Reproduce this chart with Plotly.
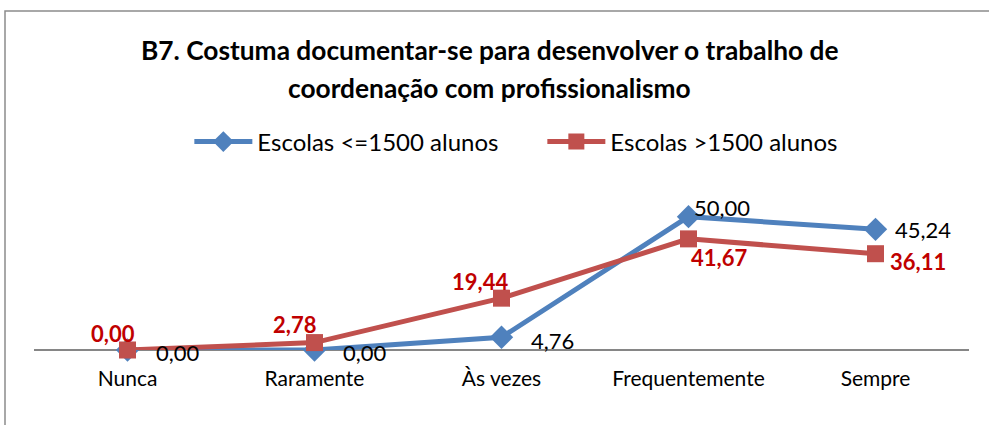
import plotly.graph_objects as go

categories = ["Nunca", "Raramente", "Às vezes", "Frequentemente", "Sempre"]
small_schools = [0.00, 0.00, 4.76, 50.00, 45.24]
large_schools = [0.00, 2.78, 19.44, 41.67, 36.11]
series_names = ["Escolas <=1500 alunos", "Escolas >1500 alunos"]
title_lines = ["B7. Costuma documentar-se para desenvolver o trabalho de",
               "coordenação com profissionalismo"]

BLUE = "#4F81BD"
RED = "#C0504D"
LABEL_RED = "#C00000"
FONT = "Lato, 'Open Sans', sans-serif"

def fmt(v):
    return f"{v:.2f}".replace(".", ",")

fig = go.Figure()
fig.add_trace(go.Scatter(
    x=categories, y=small_schools, name=series_names[0], mode="lines+markers",
    line=dict(color=BLUE, width=5),
    marker=dict(symbol="diamond", size=18, color=BLUE),
    cliponaxis=False,
))
fig.add_trace(go.Scatter(
    x=categories, y=large_schools, name=series_names[1], mode="lines+markers",
    line=dict(color=RED, width=5),
    marker=dict(symbol="square", size=17, color=RED),
    cliponaxis=False,
))

# label offsets (pixels) for each point
blue_off = [(26, -2, "left"), (26, -2, "left"), (27, -3, "left"), (3, 9, "left"), (17, 0, "left")]
red_off = [(-15, 17, "center"), (-20, 18, "center"), (-22, 17, "center"), (30, -19, "center"), (42, -8, "center")]

annotations = []
for c, v, (dx, dy, anc) in zip(categories, small_schools, blue_off):
    annotations.append(dict(x=c, y=v, text=fmt(v), showarrow=False, xanchor=anc,
                            yanchor="middle", xshift=dx, yshift=dy,
                            font=dict(family=FONT, size=22, color="#000000")))
for c, v, (dx, dy, anc) in zip(categories, large_schools, red_off):
    annotations.append(dict(x=c, y=v, text="<b>" + fmt(v) + "</b>", showarrow=False,
                            xanchor=anc, yanchor="middle", xshift=dx, yshift=dy,
                            font=dict(family=FONT, size=22, color=LABEL_RED)))
# title lines
annotations.append(dict(xref="paper", yref="paper", x=0.487, y=(350 - 50) / 160, yanchor="middle",
                        text="<b>" + title_lines[0] + "</b>", showarrow=False,
                        font=dict(family=FONT, size=26.3, color="#000000")))
annotations.append(dict(xref="paper", yref="paper", x=0.487, y=(350 - 88) / 160, yanchor="middle",
                        text="<b>" + title_lines[1] + "</b>", showarrow=False,
                        font=dict(family=FONT, size=26.3, color="#000000")))

fig.update_layout(
    width=989, height=425,
    margin=dict(l=34, r=20, t=190, b=75),
    paper_bgcolor="white", plot_bgcolor="white",
    font=dict(family=FONT, size=21, color="#000000"),
    showlegend=True,
    legend=dict(orientation="h", x=0.487 + 53 / 935, xanchor="center", y=(350 - 142) / 160,
                yanchor="middle",
                font=dict(family=FONT, size=24, color="#000000"),
                itemwidth=58, entrywidth=280, tracegroupgap=0),
    annotations=annotations,
    shapes=[dict(type="rect", xref="paper", yref="paper",
                 x0=(5 - 34) / 935, x1=(1000 - 34) / 935,
                 y0=(350 - 440) / 160, y1=(350 - 11) / 160,
                 line=dict(color="#8C8C8C", width=1.5), fillcolor="rgba(0,0,0,0)")],
)
fig.update_xaxes(showgrid=False, showline=False, zeroline=False, ticks="",
                 tickfont=dict(family=FONT, size=21, color="#000000"),
                 ticklabelstandoff=14, range=[-0.5, 4.5])
fig.update_yaxes(range=[0, 60], showgrid=False, showticklabels=False, ticks="",
                 zeroline=True, zerolinecolor="#868686", zerolinewidth=2, showline=False)

fig.write_html("out.html", config={"displayModeBar": False},
               post_script="document.body.style.margin='0';")
